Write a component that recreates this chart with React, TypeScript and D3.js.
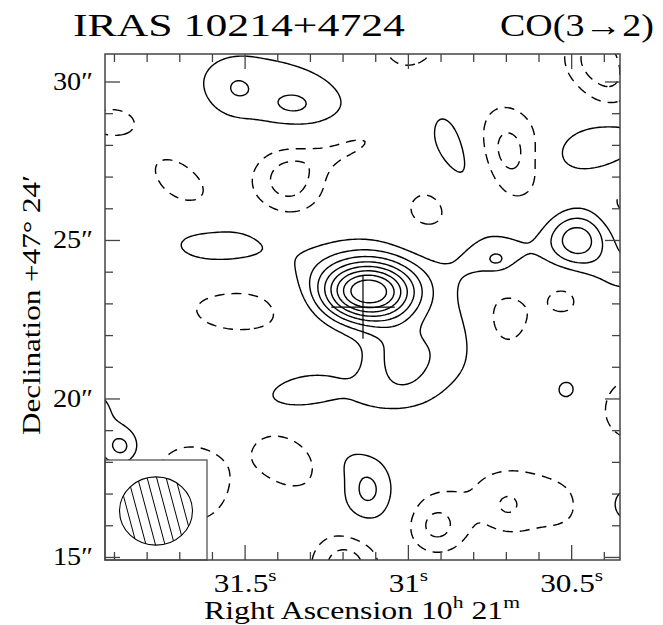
import React, { useEffect, useRef } from 'react';
import * as d3 from 'd3';

// map extent: RA seconds (10h 21m ...), Dec arcsec (+47° 24' ...)
const raRange = [31.929, 30.352];
const decRange = [30.883, 14.92];
const decDeg = 47.4;

// contour levels in units of the map noise
const negLevels = [-2, -1];
const posLevels = [1, 2, 3, 4, 5, 6, 7, 8];

// emission components (peak in contour units, widths in arcsec, angle in deg)
const compRA = [
  31.124, 31.010, 31.148, 31.332, 30.836, 31.148, 30.484, 30.729, 30.337, 30.729,
  31.528, 31.350, 31.408, 30.851, 30.423, 31.583, 31.876, 31.981, 31.124, 31.185, 30.514, 30.328,
  31.907, 31.699, 31.368, 31.172, 31.001, 30.940, 30.689, 30.423, 30.367, 30.328,
  31.509, 30.719, 30.517, 31.668, 31.371, 31.194, 30.915, 30.698, 30.628, 30.306,
];
const compDec = [
  23.35, 21.30, 20.038, 20.29, 22.183, 24.233, 25.02, 24.549, 23.918, 24.36,
  29.785, 29.249, 29.691, 27.672, 27.956, 24.833, 18.46, 19.5, 17.136, 18.019, 20.29, 16.66,
  28.745, 26.85, 26.915, 28.019, 31.17, 25.906, 27.77, 30.795, 29.817, 26.189,
  22.877, 22.561, 23.19, 17.32, 18.05, 14.738, 15.968, 16.63, 16.82, 19.722,
];
const compPeak = [
  8.5, 2.4, 0.8, 1.3, 1.4, 1.2, 3.6, 1.55, 1.2, 0.8,
  0.85, 0.9, 1.45, 1.5, 2.01, 1.45, 2.1, 1.4, 2.35, 0.5, 1.3, 2.0,
  -1.5, -1.5, -2.5, -1.5, -1.6, -1.35, -2.4, -2.4, -1.1, -1.4,
  -1.4, -1.45, -1.2, -1.6, -1.5, -2.6, -2.0, -1.0, -1.25, -1.6,
];
const compMaj = [
  1.06, 0.94, 1.9, 0.87, 0.62, 1.86, 0.68, 0.93, 0.9, 0.25,
  0.5, 0.62, 2.3, 1.4, 1.12, 1.46, 0.43, 0.87, 0.63, 0.35, 0.41, 0.62,
  0.75, 1.03, 0.84, 1.1, 0.85, 0.8, 1.1, 0.75, 0.6, 0.5,
  1.8, 0.9, 0.57, 1.2, 1.0, 0.75, 0.62, 0.45, 2.3, 0.93,
];
const compMin = [
  0.66, 0.9, 0.55, 0.38, 1.1, 0.79, 0.63, 0.55, 0.6, 0.2,
  0.5, 0.38, 1.1, 0.55, 0.54, 0.7, 0.43, 0.87, 0.82, 0.35, 0.41, 0.62,
  0.45, 0.57, 0.84, 0.4, 0.85, 0.8, 0.75, 0.75, 0.6, 0.5,
  0.85, 0.98, 0.57, 1.2, 0.69, 0.75, 0.62, 0.45, 1.2, 0.93,
];
const compPA = [
  0, 0, 0, 15, 0, 0, 0, 10, 0, 0,
  0, 0, -12, -67, 15, 0, 0, 0, 0, 0, 0, 0,
  0, -41, 0, 20, 0, 0, -77, 0, 0, 0,
  0, 0, 0, 0, -40, 0, 0, 0, -10, 0,
];

// reference position marker
const crossRA = 31.139;
const crossDec = 22.9;

// beam (arcsec)
const beamMaj = 2.3;
const beamMin = 2.15;

// axis labels
const raLabelVals = [31.5, 31, 30.5];
const raLabels = ['31.5', '31', '30.5'];
const decLabelVals = [30, 25, 20, 15];
const decLabels = ['30', '25', '20', '15'];

const frame = { left: 105, right: 620, top: 54, bottom: 560 };
const FONT = '"Liberation Serif", "DejaVu Serif", serif';

const App = () => {
  const ref = useRef<SVGSVGElement>(null);

  useEffect(() => {
    const svg = d3.select(ref.current);
    svg.selectAll('*').remove();

    const x = d3.scaleLinear().domain(raRange).range([frame.left, frame.right]);
    const y = d3.scaleLinear().domain(decRange).range([frame.top, frame.bottom]);
    const cosDec = Math.cos((decDeg * Math.PI) / 180);
    const pxPerArcsec = Math.abs(y(0) - y(1));

    // sample the map on a pixel grid a bit larger than the frame
    const gs = 2.5;
    const x0 = frame.left - 40;
    const y0 = frame.top - 40;
    const nx = Math.ceil((frame.right - frame.left + 80) / gs) + 1;
    const ny = Math.ceil((frame.bottom - frame.top + 80) / gs) + 1;
    const values = new Array(nx * ny).fill(0);
    for (let j = 0; j < ny; j++) {
      const dec = y.invert(y0 + j * gs);
      for (let i = 0; i < nx; i++) {
        const ra = x.invert(x0 + i * gs);
        let v = 0;
        for (let k = 0; k < compRA.length; k++) {
          const dx = (compRA[k] - ra) * 15 * cosDec;
          const dy = dec - compDec[k];
          const t = (compPA[k] * Math.PI) / 180;
          const u = dx * Math.cos(t) + dy * Math.sin(t);
          const w = -dx * Math.sin(t) + dy * Math.cos(t);
          v += compPeak[k] * Math.exp(-0.5 * ((u * u) / (compMaj[k] ** 2) + (w * w) / (compMin[k] ** 2)));
        }
        values[j * nx + i] = v;
      }
    }

    const path = d3.geoPath(d3.geoTransform({
      point(px, py) {
        this.stream.point(x0 + (px - 0.5) * gs, y0 + (py - 0.5) * gs);
      }
    }));

    svg.append('clipPath').attr('id', 'map-clip')
      .append('rect')
      .attr('x', frame.left).attr('y', frame.top)
      .attr('width', frame.right - frame.left).attr('height', frame.bottom - frame.top);

    const g = svg.append('g').attr('clip-path', 'url(#map-clip)');

    const gen = d3.contours().size([nx, ny]);
    g.selectAll('path.neg')
      .data(gen.thresholds(negLevels)(values))
      .enter().append('path')
      .attr('class', 'neg')
      .attr('d', path)
      .attr('fill', 'none')
      .attr('stroke', '#000')
      .attr('stroke-width', 1.4)
      .attr('stroke-dasharray', '10,7');

    g.selectAll('path.pos')
      .data(gen.thresholds(posLevels)(values))
      .enter().append('path')
      .attr('class', 'pos')
      .attr('d', path)
      .attr('fill', 'none')
      .attr('stroke', '#000')
      .attr('stroke-width', 1.4);

    // reference cross
    g.append('path')
      .attr('d', `M${x(crossRA) - pxPerArcsec},${y(crossDec)}H${x(crossRA) + pxPerArcsec}M${x(crossRA)},${y(crossDec) - pxPerArcsec}V${y(crossDec) + pxPerArcsec}`)
      .attr('stroke', '#000')
      .attr('stroke-width', 1.2);

    // beam inset
    const inset = { x: frame.left, y: 460, w: 102, h: frame.bottom - 460 };
    svg.append('rect')
      .attr('x', inset.x).attr('y', inset.y)
      .attr('width', inset.w).attr('height', inset.h)
      .attr('fill', '#fff')
      .attr('stroke', '#555')
      .attr('stroke-width', 1.3);
    const bcx = inset.x + inset.w / 2;
    const bcy = inset.y + inset.h / 2 + 1;
    const brx = (beamMaj / 2) * pxPerArcsec;
    const bry = (beamMin / 2) * pxPerArcsec;
    svg.append('clipPath').attr('id', 'beam-clip')
      .append('ellipse')
      .attr('cx', bcx).attr('cy', bcy).attr('rx', brx).attr('ry', bry);
    const hatch = svg.append('g').attr('clip-path', 'url(#beam-clip)');
    d3.range(-5, 6).forEach(n => {
      const cx = bcx + n * 9.5;
      hatch.append('line')
        .attr('x1', cx - 12).attr('y1', bcy - 45)
        .attr('x2', cx + 12).attr('y2', bcy + 45)
        .attr('stroke', '#000').attr('stroke-width', 1);
    });
    svg.append('ellipse')
      .attr('cx', bcx).attr('cy', bcy).attr('rx', brx).attr('ry', bry)
      .attr('fill', 'none').attr('stroke', '#000').attr('stroke-width', 1.1);

    // frame
    svg.append('rect')
      .attr('x', frame.left).attr('y', frame.top)
      .attr('width', frame.right - frame.left).attr('height', frame.bottom - frame.top)
      .attr('fill', 'none')
      .attr('stroke', '#444')
      .attr('stroke-width', 1.5);

    // ticks, pointing inward on all four sides
    const ticks = svg.append('g').attr('stroke', '#444').attr('stroke-width', 1.3);
    d3.range(304, 320).forEach(t => {
      const px = x(t / 10);
      const len = t % 5 === 0 ? 15 : 8;
      ticks.append('line').attr('x1', px).attr('x2', px).attr('y1', frame.bottom).attr('y2', frame.bottom - len);
      ticks.append('line').attr('x1', px).attr('x2', px).attr('y1', frame.top).attr('y2', frame.top + len);
    });
    d3.range(15, 31).forEach(t => {
      const py = y(t);
      const len = t % 5 === 0 ? 15 : 8;
      ticks.append('line').attr('x1', frame.left).attr('x2', frame.left + len).attr('y1', py).attr('y2', py);
      ticks.append('line').attr('x1', frame.right).attr('x2', frame.right - len).attr('y1', py).attr('y2', py);
    });

    // tick labels (the plot font is wide, so stretch horizontally)
    raLabelVals.forEach((v, i) => {
      const t = svg.append('g')
        .attr('transform', `translate(${x(v)},592) scale(1.25,1)`)
        .append('text')
        .attr('text-anchor', 'middle')
        .attr('font-family', FONT).attr('font-size', 25);
      t.append('tspan').text(raLabels[i]);
      t.append('tspan').attr('font-size', 17).attr('dy', -11).text('s');
    });
    decLabelVals.forEach((v, i) => {
      svg.append('text')
        .attr('x', 53).attr('y', y(v) + 8)
        .attr('font-family', FONT).attr('font-size', 25)
        .attr('textLength', 40).attr('lengthAdjust', 'spacingAndGlyphs')
        .text(decLabels[i] + '\u2033');
    });

    // axis titles
    const xt = svg.append('g')
      .attr('transform', 'translate(362,619) scale(1.27,1)')
      .append('text')
      .attr('text-anchor', 'middle')
      .attr('font-family', FONT).attr('font-size', 25);
    xt.append('tspan').text('Right Ascension 10');
    xt.append('tspan').attr('font-size', 17).attr('dy', -11).text('h');
    xt.append('tspan').attr('dy', 11).text(' 21');
    xt.append('tspan').attr('font-size', 17).attr('dy', -11).text('m');

    svg.append('text')
      .attr('transform', 'translate(40,435) rotate(-90)')
      .attr('font-family', FONT).attr('font-size', 25)
      .attr('textLength', 260).attr('lengthAdjust', 'spacingAndGlyphs')
      .text('Declination +47\u00b0 24\u2032');

    // title
    svg.append('text')
      .attr('x', 73).attr('y', 36)
      .attr('font-family', FONT).attr('font-size', 31)
      .attr('textLength', 332).attr('lengthAdjust', 'spacingAndGlyphs')
      .text('IRAS 10214+4724');
    svg.append('text')
      .attr('x', 500).attr('y', 36)
      .attr('font-family', FONT).attr('font-size', 31)
      .attr('textLength', 154).attr('lengthAdjust', 'spacingAndGlyphs')
      .text('CO(3\u21922)');
  }, []);

  return (
    <svg
      ref={ref}
      width={663}
      height={625}
      style={{ position: 'absolute', left: 0, top: 0, background: '#fff' }}
    />
  );
};

export default App;
